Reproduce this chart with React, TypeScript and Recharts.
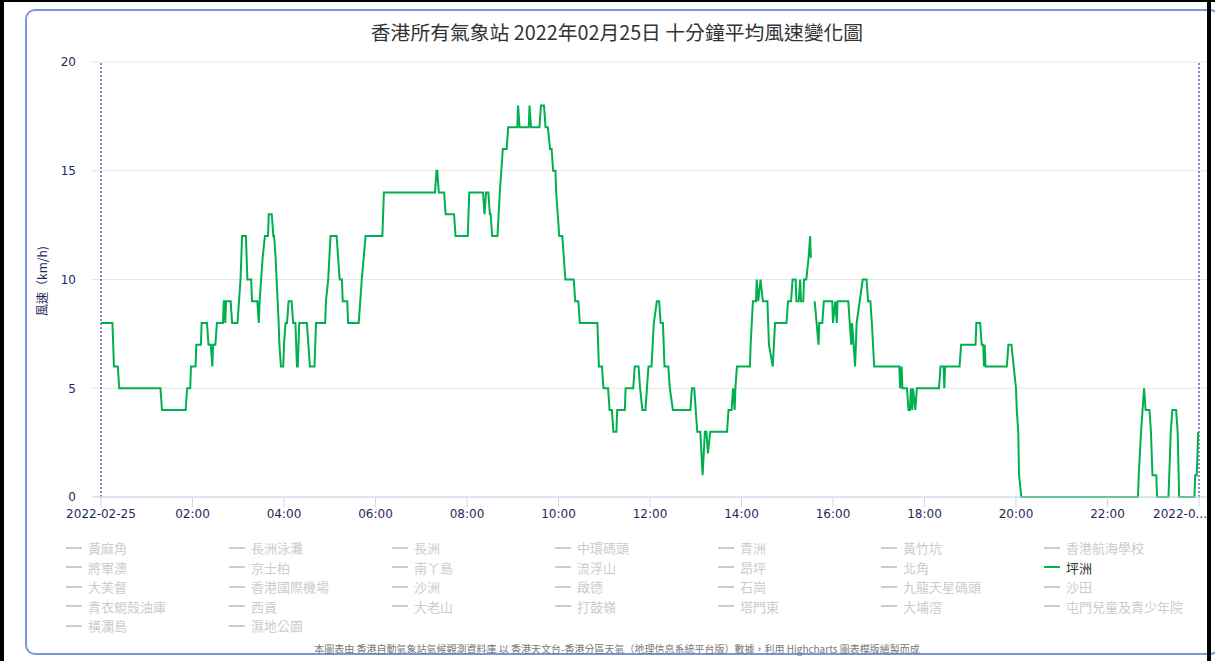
import React from "react";
import { LineChart, Line, CartesianGrid, XAxis, YAxis, ReferenceLine, Label } from "recharts";

// minutes after 00:00 on 2022-02-25 at each change of level
const minutes = [
  0, 15, 17, 22, 24, 78, 80, 111, 113, 117, 118, 124, 125, 131, 132, 139, 141, 144, 146, 147,
  150, 152, 160, 161, 162, 163, 164, 170, 172, 179, 181, 183, 185, 190, 192, 197, 198, 205, 207, 208,
  210, 212, 215, 219, 220, 224, 226, 227, 229, 233, 234, 236, 239, 240, 242, 244, 246, 250, 252, 255,
  257, 258, 260, 270, 272, 274, 280, 282, 294, 295, 298, 301, 309, 313, 316, 317, 323, 324, 338, 340,
  342, 347, 369, 371, 438, 440, 441, 443, 450, 452, 463, 465, 481, 483, 501, 503, 505, 508, 510, 511,
  513, 520, 523, 525, 527, 532, 534, 546, 547, 549, 561, 562, 564, 575, 577, 581, 583, 586, 589, 591,
  593, 596, 597, 599, 601, 605, 607, 609, 620, 622, 626, 628, 651, 653, 657, 659, 665, 667, 670, 672,
  676, 677, 687, 688, 698, 700, 705, 707, 710, 714, 716, 718, 722, 725, 729, 732, 734, 737, 739, 744,
  746, 750, 773, 775, 778, 780, 782, 786, 789, 792, 794, 796, 799, 821, 823, 827, 829, 831, 832, 834,
  851, 852, 855, 859, 860, 862, 865, 868, 874, 876, 881, 884, 899, 901, 905, 907, 911, 912, 915, 917,
  918, 921, 922, 925, 928, 930, 931, 933, 936, 941, 942, 946, 948, 959, 960, 963, 965, 966, 980, 982,
  984, 985, 987, 989, 991, 995, 999, 1004, 1006, 1009, 1011, 1014, 1047, 1048, 1050, 1051, 1057, 1059, 1061, 1062,
  1064, 1065, 1068, 1070, 1099, 1101, 1105, 1106, 1107, 1126, 1128, 1147, 1148, 1153, 1155, 1157, 1158, 1159, 1160, 1188,
  1190, 1194, 1197, 1200, 1201, 1203, 1204, 1207, 1360, 1361, 1364, 1368, 1370, 1375, 1377, 1379, 1384, 1385, 1400, 1401,
  1403, 1405, 1410, 1412, 1414, 1434, 1435, 1437, 1439,
];

// 坪洲 ten-minute mean wind speed, km/h (null = missing reading)
const pingChau = [
  8, 8, 6, 6, 5, 5, 4, 4, 5, 5, 6, 6, 7, 7, 8, 8, 7, 7, 6, 7,
  7, 8, 8, 9, 9, 8, 9, 9, 8, 8, 9, 10, 12, 12, 10, 10, 9, 9, 8, 9,
  10, 11, 12, 12, 13, 13, 12, 12, 11, 8, 7, 6, 6, 7, 8, 8, 9, 9, 8, 8,
  6, 6, 8, 8, 7, 6, 6, 8, 8, 9, 10, 12, 12, 10, 10, 9, 9, 8, 8, 9,
  10, 12, 12, 14, 14, 15, 15, 14, 14, 13, 13, 12, 12, 14, 14, 13, 14, 14, 13, 13,
  12, 12, 14, 15, 16, 16, 17, 17, 18, 17, 17, 18, 17, 17, 18, 18, 17, 17, 16, 16,
  15, 15, 14, 13, 12, 12, 11, 10, 10, 9, 9, 8, 8, 6, 6, 5, 5, 4, 4, 3,
  3, 4, 4, 5, 5, 6, 6, 5, 4, 4, 5, 6, 6, 8, 9, 9, 8, 8, 6, 6,
  5, 4, 4, 5, 5, 4, 3, 3, 1, 3, 3, 2, 3, 3, 4, 4, 5, 4, 5, 6,
  6, 7, 9, 9, 10, 9, 10, 9, 9, 7, 6, 8, 8, 9, 9, 10, 10, 9, 9, 10,
  9, 9, 10, 10, 11, 12, 11, null, 9, 7, 8, 8, 9, 9, 8, 9, 8, 9, 9, 8,
  7, 8, 7, 6, 8, 9, 10, 10, 9, 9, 8, 6, 6, 5, 6, 5, 5, 4, 4, 5,
  4, 5, 4, 5, 5, 6, 6, 5, 6, 6, 7, 7, 8, 8, 7, 7, 6, 7, 6, 6,
  7, 7, 6, 5, 4, 3, 1, 0, 0, 1, 3, 5, 4, 4, 3, 1, 1, 0, 0, 1,
  3, 4, 4, 3, 0, 0, 1, 1, 3,
];

const stations = [
  "黃麻角", "長洲泳灘", "長洲", "中環碼頭", "青洲", "黃竹坑", "香港航海學校",
  "將軍澳", "京士柏", "南丫島", "流浮山", "昂坪", "北角", "坪洲",
  "大美督", "香港國際機場", "沙洲", "啟德", "石崗", "九龍天星碼頭", "沙田",
  "青衣蜆殼油庫", "西貢", "大老山", "打鼓嶺", "塔門東", "大埔滘", "屯門兒童及青少年院",
  "橫瀾島", "濕地公園",
];
const shownStation = "坪洲";

const xTicks = [0, 120, 240, 360, 480, 600, 720, 840, 960, 1080, 1200, 1320, 1440];
const xTickLabels = [
  "2022-02-25", "02:00", "04:00", "06:00", "08:00", "10:00", "12:00",
  "14:00", "16:00", "18:00", "20:00", "22:00", "2022-0...",
];
const yTicks = [0, 5, 10, 15, 20];

const data = minutes.map((m, i) => ({ t: m, [shownStation]: pingChau[i] }));

const axisColor = "#1f2a5c";
const lineColor = "#00b04f";
const cjk = "'Noto Sans CJK TC', 'Noto Sans', sans-serif";

const XTick = (props: any) => {
  const { x, y, payload } = props;
  const idx = xTicks.indexOf(payload.value);
  const last = idx === xTicks.length - 1;
  return (
    <text
      x={last ? 1207 : x}
      y={y}
      dy="0.71em"
      textAnchor={last ? "end" : "middle"}
      fill={axisColor}
      fontSize={12}
      fontFamily="'DejaVu Sans', sans-serif"
    >
      {xTickLabels[idx]}
    </text>
  );
};

const App = () => {
  return (
    <div style={{ position: "fixed", left: 0, top: 0, width: 1215, height: 661, overflow: "hidden", background: "#fff" }}>
      <div
        style={{
          position: "absolute", left: 25, top: 9, width: 1195, height: 646,
          border: "2px solid #7b97d5", borderRadius: 10, boxSizing: "border-box",
        }}
      />
      <div
        style={{
          position: "absolute", left: 0, top: 20, width: 1234, textAlign: "center",
          fontFamily: cjk, fontSize: 19.8, color: "#333", lineHeight: "24px",
        }}
      >
        香港所有氣象站 2022年02月25日 十分鐘平均風速變化圖
      </div>

      <div style={{ position: "absolute", left: 0, top: 0 }}>
        <LineChart width={1215} height={661} data={data} margin={{ top: 62, right: 8, bottom: 134, left: 32 }}>
          <CartesianGrid vertical={false} stroke="#e6e6e6" />
          <XAxis
            dataKey="t"
            type="number"
            domain={[-11.8, 1450.5]}
            allowDataOverflow
            ticks={xTicks}
            interval={0}
            height={30}
            tickSize={10}
            tickMargin={2}
            stroke="#ccd6eb"
            tick={<XTick />}
          />
          <YAxis
            domain={[0, 20]}
            ticks={yTicks}
            width={60}
            axisLine={false}
            tickLine={false}
            tickSize={6}
            tickMargin={10}
            tick={{ fill: axisColor, fontSize: 12, fontFamily: "'DejaVu Sans', sans-serif" }}
          >
            <Label
              content={() => (
                <text
                  x={44}
                  y={281}
                  transform="rotate(-90 44 281)"
                  textAnchor="middle"
                  dominantBaseline="middle"
                  fill={axisColor}
                  fontSize={12}
                  fontFamily={cjk}
                >
                  風速（km/h)
                </text>
              )}
            />
          </YAxis>
          <ReferenceLine x={0} stroke="#1a1a80" strokeDasharray="2 2" />
          <ReferenceLine x={1440} stroke="#1a1a80" strokeDasharray="2 2" />
          <Line
            type="linear"
            dataKey={shownStation}
            stroke={lineColor}
            strokeWidth={2}
            dot={false}
            activeDot={false}
            isAnimationActive={false}
          />
        </LineChart>
      </div>

      <div
        style={{
          position: "absolute", left: 66, top: 538, display: "grid",
          gridTemplateColumns: "repeat(7, 163px)", gridAutoRows: "19.5px",
          fontFamily: cjk, fontSize: 13,
        }}
      >
        {stations.map((s) => {
          const on = s === shownStation;
          return (
            <div key={s} style={{ display: "flex", alignItems: "center", whiteSpace: "nowrap", color: on ? "#333" : "#cccccc" }}>
              <span style={{ display: "inline-block", width: 16, height: 2, background: on ? lineColor : "#cccccc", marginRight: 6 }} />
              {s}
            </div>
          );
        })}
      </div>

      <div
        style={{
          position: "absolute", left: 0, top: 642, width: 1234, textAlign: "center",
          fontFamily: cjk, fontSize: 10, color: "#777", lineHeight: "14px",
        }}
      >
        本圖表由 香港自動氣象站氣候觀測資料庫 以 香港天文台-香港分區天氣（地理信息系統平台版）數據，利用 Highcharts 圖表模版繪製而成
      </div>

      <div style={{ position: "absolute", left: 0, top: 0, width: 1215, height: 2, background: "#000" }} />
      <div style={{ position: "absolute", left: 0, top: 0, width: 4, height: 661, background: "#000" }} />
      <div style={{ position: "absolute", left: 1207, top: 0, width: 4, height: 661, background: "#000" }} />
    </div>
  );
};

export default App;
